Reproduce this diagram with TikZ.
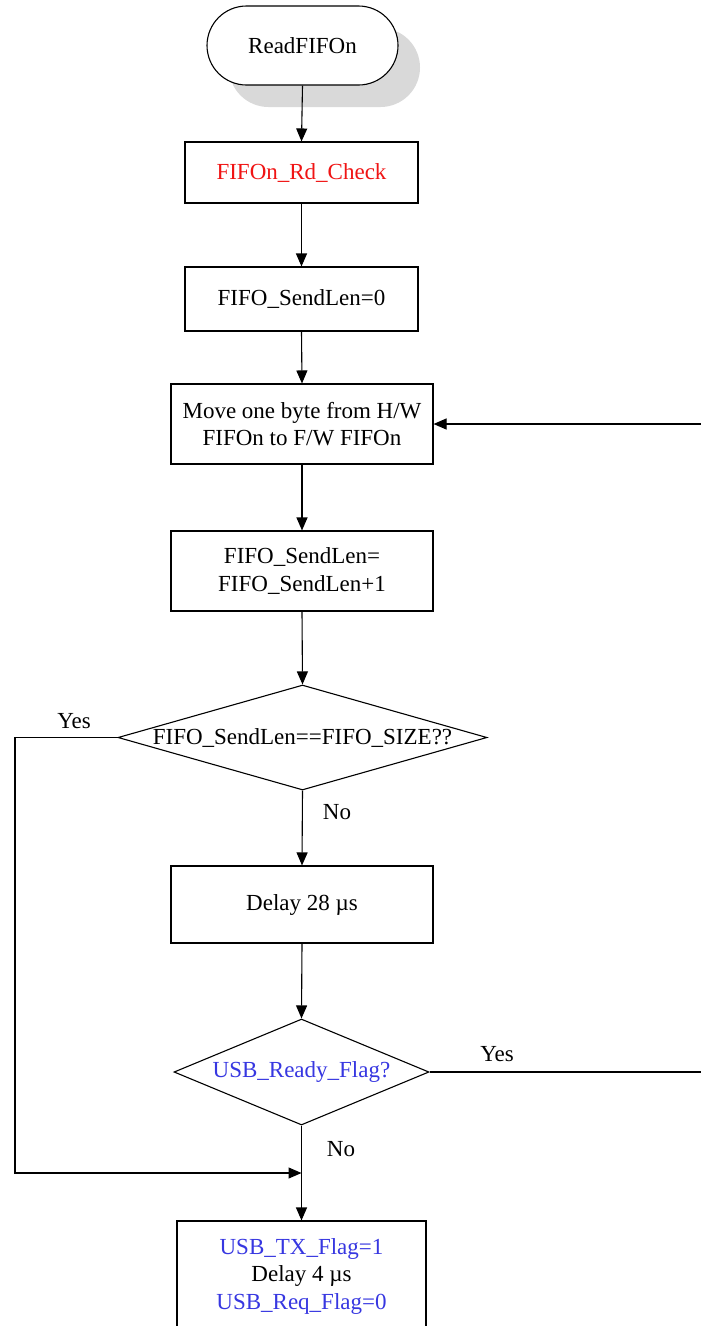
\documentclass[tikz,border=0pt]{standalone}
\usepackage{fontspec}
\setmainfont{Liberation Serif}
\usetikzlibrary{shapes.geometric,arrows.meta}
\definecolor{tblue}{RGB}{55,55,225}
\definecolor{tred}{RGB}{240,20,20}
\definecolor{shadowgray}{RGB}{217,217,217}
\begin{document}
\begin{tikzpicture}[x=1pt,y=-1pt,
  every node/.style={font=\fontsize{23}{27.5}\selectfont},
  proc/.style={draw,line width=1.1pt,rectangle,inner sep=0pt,align=center},
  dec/.style={draw,line width=1.1pt,diamond,inner sep=0pt},
  lab/.style={inner sep=0pt},
  flow/.style={line width=1.1pt,-{Triangle[length=13pt,width=11pt]}},
  plain/.style={line width=1.1pt}]
\clip (0,0) rectangle (701,1326);
\fill[white] (0,0) rectangle (701,1326);
% shadow of terminal
\fill[shadowgray,rounded corners=39.5pt] (229,28) rectangle (420,107);
\node[proc,fill=white,rounded corners=39.5pt,minimum width=191pt,minimum height=79pt] (start) at (302.5,45.5) {ReadFIFOn};
\node[proc,minimum width=233pt,minimum height=61pt,text=tred] (chk) at (301.5,172.5) {FIFOn\_Rd\_Check};
\node[proc,minimum width=233pt,minimum height=64pt] (zero) at (301.5,299) {FIFO\_SendLen=0};
\node[proc,minimum width=262pt,minimum height=80pt] (move) at (302,424) {Move one byte from H/W\\FIFOn to F/W FIFOn};
\node[proc,minimum width=262pt,minimum height=80pt] (inc) at (302,571) {FIFO\_SendLen=\\FIFO\_SendLen+1};
\node[dec,minimum width=369pt,minimum height=105pt] (full) at (302.5,737.5) {\makebox[0pt]{FIFO\_SendLen==FIFO\_SIZE??}};
\node[proc,minimum width=262pt,minimum height=77pt] (delay) at (302,904.5) {Delay 28 µs};
\node[dec,minimum width=255pt,minimum height=106pt,text=tblue] (ready) at (301.5,1072) {\makebox[0pt]{USB\_Ready\_Flag?}};
\node[proc,minimum width=249pt,minimum height=110pt] (tx) at (301.5,1276) {\textcolor{tblue}{USB\_TX\_Flag=1}\\Delay 4 µs\\\textcolor{tblue}{USB\_Req\_Flag=0}};
% labels
\node[lab] (yes1) at (74,721) {Yes};
\node[lab] (no1) at (337,812) {No};
\node[lab] (yes2) at (497,1054) {Yes};
\node[lab] (no2) at (341,1149) {No};
% coordinates
\coordinate (rtop) at (701,424);
\coordinate (rbot) at (701,1072);
\coordinate (lcorner) at (15,737.5);
\coordinate (merge) at (301.5,1173);
% connectors
\draw[flow] (start.south) -- (chk.north);
\draw[flow] (chk.south) -- (zero.north);
\draw[flow] (zero.south) -- (move.north);
\draw[flow] (move.south) -- (inc.north);
\draw[flow] (inc.south) -- (full.north);
\draw[flow] (full.south) -- (delay.north);
\draw[flow] (delay.south) -- (ready.north);
\draw[flow] (ready.south) -- (tx.north);
\draw[flow] (rtop) -- (move.east);
\draw[plain] (ready.east) -- (rbot);
\draw[flow] (full.west) -- (lcorner) |- (merge);
\end{tikzpicture}
\end{document}
